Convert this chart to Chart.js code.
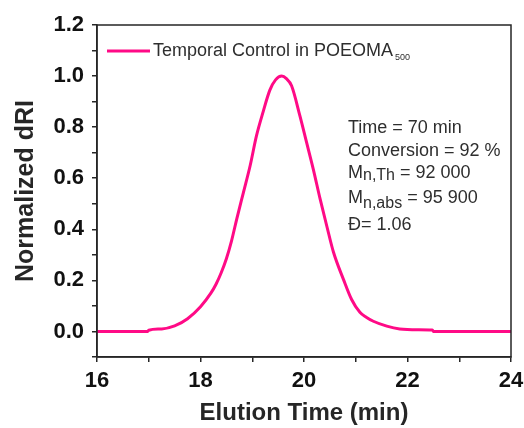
<!DOCTYPE html>
<html>
<head>
<meta charset="utf-8">
<script src="https://cdn.jsdelivr.net/npm/chart.js@4.4.0/dist/chart.umd.min.js"></script>
<style>
  html, body { margin: 0; padding: 0; background: #fff; }
  #wrap { width: 524px; height: 428px; }
</style>
</head>
<body>
<div id="wrap"><canvas id="gpcChart" width="524" height="428"></canvas></div>
<script>
// Elution trace (min, normalized dRI)
const elutionTime = [16.0, 16.5, 16.98, 17.0, 17.25, 17.5, 17.75, 18.0, 18.2, 18.3, 18.4, 18.5, 18.6, 18.7, 18.83, 18.96,
    19.08, 19.21, 19.34, 19.45, 19.57, 19.66, 19.76, 19.92, 20.05, 20.18, 20.31, 20.44, 20.57, 20.76,
    20.92, 21.08, 21.21, 21.34, 21.6, 21.85, 22.2, 22.48, 22.5, 23.0, 24.0];
const dRI = [0, 0, 0, 0.005, 0.01, 0.022, 0.05, 0.097, 0.15, 0.185, 0.23, 0.285, 0.355, 0.44, 0.545, 0.65,
    0.765, 0.86, 0.945, 0.985, 1.0, 0.99, 0.962, 0.845, 0.74, 0.635, 0.52, 0.413, 0.31, 0.205,
    0.125, 0.075, 0.055, 0.04, 0.021, 0.01, 0.007, 0.006, 0, 0, 0];

const seriesLabel = 'Temporal Control in POEOMA';
const seriesSub = '500';
const infoLines = [
    [['Time = 70 min', 0]],
    [['Conversion = 92 %', 0]],
    [['M', 0], ['n,Th', 2], [' = 92 000', 0]],
    [['M', 0], ['n,abs', 5], [' = 95 900', 0]],
    [['\u0110= 1.06', 0]]
];

const pink = '#ff0a86';
const ink = '#262626';
const family = '"Liberation Sans", Arial, sans-serif';

// legend, info block and box frame
const extras = {
    id: 'extras',
    afterDraw(chart) {
        const { ctx, chartArea: a } = chart;
        ctx.save();

        // frame on top and right
        ctx.strokeStyle = ink;
        ctx.lineWidth = 1.5;
        ctx.strokeRect(a.left, a.top, a.right - a.left, a.bottom - a.top);

        // legend
        const ly = a.top + 26;
        ctx.strokeStyle = pink;
        ctx.lineWidth = 3;
        ctx.beginPath();
        ctx.moveTo(a.left + 10, ly);
        ctx.lineTo(a.left + 53, ly);
        ctx.stroke();
        ctx.fillStyle = '#2e2e2e';
        ctx.textBaseline = 'middle';
        ctx.font = '18px ' + family;
        ctx.fillText(seriesLabel, a.left + 56, ly);
        const w = ctx.measureText(seriesLabel).width;
        ctx.font = '9px ' + family;
        ctx.fillText(seriesSub, a.left + 58 + w, ly + 7);

        // info text
        ctx.textBaseline = 'alphabetic';
        const baselines = [133, 156, 178, 203, 230];
        infoLines.forEach((parts, i) => {
            let x = 348;
            parts.forEach(([txt, drop]) => {
                ctx.font = (drop ? '16px ' : '18px ') + family;
                ctx.fillText(txt, x, baselines[i] + drop);
                x += ctx.measureText(txt).width;
            });
        });
        ctx.restore();
    }
};

new Chart(document.getElementById('gpcChart'), {
    type: 'line',
    data: {
        datasets: [{
            label: seriesLabel,
            data: elutionTime.map((t, i) => ({ x: t, y: dRI[i] })),
            borderColor: pink,
            borderWidth: 3,
            pointRadius: 0,
            cubicInterpolationMode: 'monotone',
            fill: false
        }]
    },
    options: {
        responsive: false,
        animation: false,
        layout: { padding: { left: 11, right: 0, top: 25, bottom: 0 } },
        plugins: {
            legend: { display: false },
            tooltip: { enabled: false }
        },
        scales: {
            x: {
                type: 'linear',
                min: 16,
                max: 24,
                afterFit(scale) {
                    scale.height = 71;
                    scale.paddingRight = 13;
                    scale.paddingLeft = 0;
                },
                border: { display: true, color: ink, width: 1.5 },
                grid: { drawOnChartArea: false, drawTicks: true, tickLength: 5, color: ink, lineWidth: 1.5 },
                ticks: {
                    stepSize: 1,
                    padding: 6,
                    autoSkip: false,
                    color: '#111',
                    font: { family: family, size: 22, weight: 'bold' },
                    maxRotation: 0,
                    callback: v => (Math.round(v) % 2 === 0 ? String(v) : '')
                },
                title: {
                    display: true,
                    text: 'Elution Time (min)',
                    color: ink,
                    padding: 0,
                    font: { family: family, size: 24, weight: 'bold' }
                }
            },
            y: {
                min: -0.1,
                max: 1.2,
                afterFit(scale) { scale.width = 86; },
                border: { display: true, color: ink, width: 1.5 },
                grid: { drawOnChartArea: false, drawTicks: true, tickLength: 5, color: ink, lineWidth: 1.5 },
                ticks: {
                    stepSize: 0.1,
                    padding: 8,
                    autoSkip: false,
                    color: '#111',
                    font: { family: family, size: 22, weight: 'bold' },
                    callback: v => {
                        const k = Math.round(v * 10);
                        return (k >= 0 && k % 2 === 0) ? (k / 10).toFixed(1) : '';
                    }
                },
                title: {
                    display: true,
                    text: 'Normalized dRI',
                    color: ink,
                    padding: 0,
                    font: { family: family, size: 25, weight: 'bold' }
                }
            }
        }
    },
    plugins: [extras]
});
</script>
</body>
</html>
